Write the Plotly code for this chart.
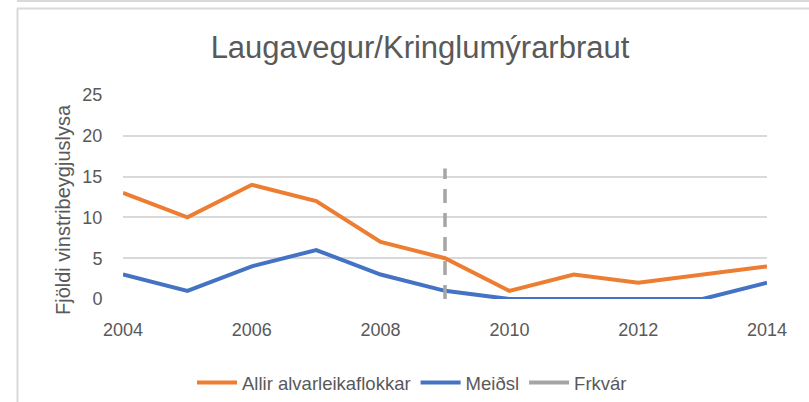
import plotly.graph_objects as go

years = [2004, 2005, 2006, 2007, 2008, 2009, 2010, 2011, 2012, 2013, 2014]
allir = [13, 10, 14, 12, 7, 5, 1, 3, 2, 3, 4]
meidsl = [3, 1, 4, 6, 3, 1, 0, 0, 0, 0, 2]
frkvar_x = [2009, 2009]
frkvar_y = [0, 16]

FONT = "Liberation Sans, Arial"
GREY = "#595959"

fig = go.Figure()
fig.add_trace(go.Scatter(x=years, y=allir, mode="lines", name="Allir alvarleikaflokkar",
                         line=dict(color="#ED7D31", width=4)))
fig.add_trace(go.Scatter(x=years, y=meidsl, mode="lines", name="Meiðsl",
                         line=dict(color="#4472C4", width=4)))
fig.add_trace(go.Scatter(x=frkvar_x, y=frkvar_y, mode="lines", name="Frkvár", showlegend=False,
                         line=dict(color="#A5A5A5", width=3.5, dash="14px,10px")))
fig.add_trace(go.Scatter(x=[None], y=[None], mode="lines", name="Frkvár",
                         line=dict(color="#A5A5A5", width=4)))

L, R, T, B = 123, 42, 95, 103
W, H = 809, 402
pw, ph = W - L - R, H - T - B

def px(xp):
    return (xp - L) / pw

def py(yp):
    return (H - B - yp) / ph

shapes = [
    dict(type="line", xref="paper", yref="paper", x0=px(17), x1=px(809), y0=py(1), y1=py(1),
         line=dict(color="#D9D9D9", width=2)),
    dict(type="line", xref="paper", yref="paper", x0=px(17), x1=px(809), y0=py(8.5), y1=py(8.5),
         line=dict(color="#D9D9D9", width=2)),
    dict(type="line", xref="paper", yref="paper", x0=px(17.5), x1=px(17.5), y0=py(8.5), y1=py(402),
         line=dict(color="#D9D9D9", width=2)),
]

annotations = [
    dict(text="Fjöldi vinstribeygjuslysa", xref="paper", yref="paper", x=px(63), y=py(210),
         xanchor="center", yanchor="middle", textangle=-90, showarrow=False,
         font=dict(size=20, color=GREY, family=FONT)),
]

fig.update_layout(
    width=W, height=H,
    margin=dict(l=L, r=R, t=T, b=B, autoexpand=False),
    paper_bgcolor="white", plot_bgcolor="white",
    font=dict(family=FONT, color=GREY, size=18),
    title=dict(text="Laugavegur/Kringlumýrarbraut", x=420 / W, xanchor="center",
               y=1 - 47 / H, yanchor="middle", font=dict(size=31, color=GREY, family=FONT)),
    xaxis=dict(range=[2004, 2014], tickmode="linear", tick0=2004, dtick=2, showgrid=False,
               zeroline=False, showline=False, ticks="outside", ticklen=14, tickcolor="rgba(0,0,0,0)",
               tickfont=dict(size=18, color=GREY), automargin=False),
    yaxis=dict(range=[0, 25], tickmode="linear", tick0=0, dtick=5, showgrid=True,
               gridcolor="#D9D9D9", gridwidth=1.5, zeroline=False, showline=False,
               ticks="outside", ticklen=16, tickcolor="rgba(0,0,0,0)",
               tickfont=dict(size=18, color=GREY), automargin=False),
    legend=dict(orientation="h", xref="container", yref="container", x=412 / W, xanchor="center",
                y=1 - 383 / H, yanchor="middle",
                font=dict(size=18.5, color=GREY), itemwidth=40, tracegroupgap=0),
    shapes=shapes,
    annotations=annotations,
)

fig.write_html("out.html", config={"displayModeBar": False},
               post_script="document.body.style.margin='0';document.body.style.overflow='hidden';")
